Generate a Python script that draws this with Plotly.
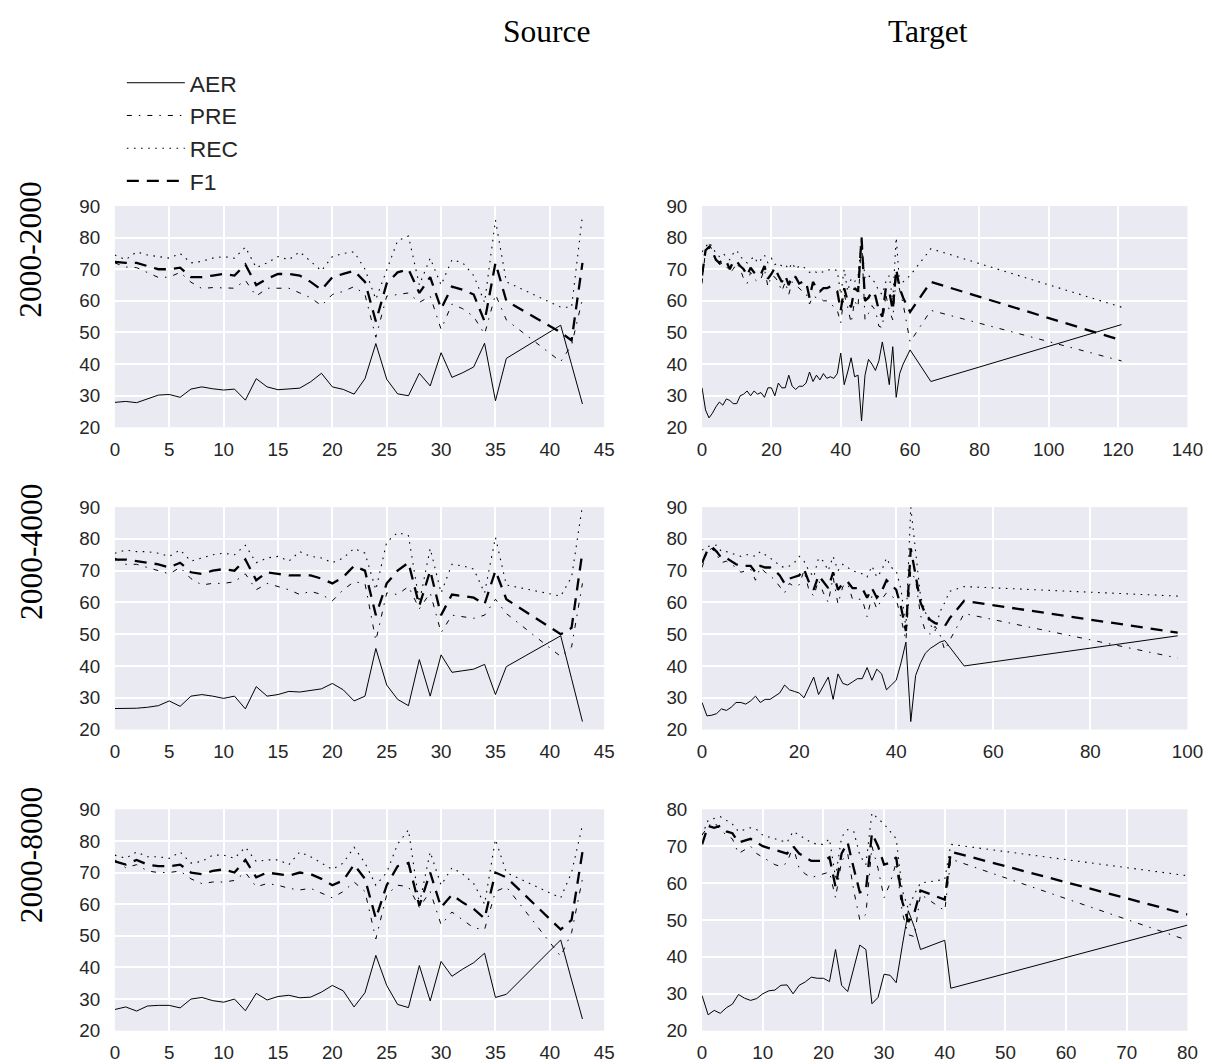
import plotly.graph_objects as go

# ---------------- data ----------------
src_x = [0, 1, 2, 3, 4, 5, 6, 7, 8, 9, 10, 11, 12, 13, 14, 15, 16, 17, 18, 19,
         20, 21, 22, 23, 24, 25, 26, 27, 28, 29, 30, 31, 32, 33, 34, 35, 36, 41, 42, 43]

# Source 2000-2000
s1_aer = [27.9, 28.2, 27.8, 29.0, 30.2, 30.4, 29.5, 32.1, 32.8, 32.2, 31.8, 32.1, 28.6, 35.4, 32.8, 31.9, 32.1, 32.4, 34.4, 37.1,
          32.8, 32.0, 30.5, 35.4, 46.5, 35.2, 30.6, 30.0, 37.1, 33.1, 43.6, 35.8, 37.3, 39.1, 46.6, 28.4, 41.8, 52.3, 39.8, 27.4]
s1_pre = [72.0, 70.7, 70.5, 69.0, 67.4, 67.5, 69.0, 65.9, 63.9, 64.2, 64.0, 64.0, 66.5, 61.5, 64.0, 64.0, 64.0, 62.5, 61.0, 58.5,
          62.0, 63.0, 64.5, 62.0, 48.5, 61.5, 62.0, 62.5, 59.5, 61.5, 51.0, 59.0, 57.5, 55.0, 49.5, 62.0, 54.0, 40.8, 46.0, 60.6]
s1_rec = [74.5, 73.0, 75.5, 74.5, 74.0, 73.5, 75.0, 72.0, 72.5, 73.5, 74.0, 73.5, 77.0, 70.5, 72.0, 74.0, 73.0, 75.5, 72.5, 69.5,
          74.0, 75.0, 75.5, 70.0, 60.5, 70.0, 79.0, 80.5, 65.0, 73.5, 65.0, 73.0, 72.0, 68.0, 59.5, 85.5, 66.0, 58.0, 58.0, 87.0]
s1_f1 = [72.3, 72.0, 72.0, 71.0, 70.0, 70.0, 70.5, 67.5, 67.5, 68.0, 68.5, 68.0, 71.5, 65.0, 67.0, 68.5, 68.5, 68.0, 66.0, 63.5,
         67.5, 68.5, 69.5, 66.0, 53.5, 65.5, 69.0, 70.0, 62.5, 67.5, 57.5, 64.5, 63.5, 62.0, 53.5, 72.0, 60.0, 50.0, 47.5, 72.0]

# Source 2000-4000
s2_aer = [26.6, 26.6, 26.7, 27.0, 27.5, 29.0, 27.3, 30.5, 31.0, 30.5, 29.8, 30.5, 26.5, 33.5, 30.5, 31.0, 32.0, 31.8, 32.2, 32.8,
          34.5, 32.5, 29.0, 30.5, 45.5, 34.0, 29.5, 27.5, 42.0, 30.5, 43.5, 38.0, 38.5, 39.0, 40.5, 31.0, 39.8, 49.5, 36.0, 22.5]
s2_pre = [74.0, 72.0, 72.0, 71.0, 70.0, 69.0, 71.0, 67.5, 65.5, 66.0, 66.0, 66.5, 69.0, 64.0, 66.0, 65.0, 64.0, 62.5, 63.5, 62.5,
          60.5, 64.0, 66.5, 66.0, 48.0, 63.0, 62.5, 65.0, 58.0, 63.0, 50.5, 56.0, 55.5, 55.0, 56.0, 61.0, 56.5, 43.0, 46.0, 66.0]
s2_rec = [75.5, 76.5, 76.0, 76.0, 75.5, 74.5, 76.5, 73.0, 74.0, 75.0, 75.5, 75.0, 78.0, 72.5, 74.0, 74.5, 73.0, 76.0, 74.5, 74.0,
          72.5, 74.0, 77.0, 75.5, 64.0, 79.0, 82.0, 81.0, 60.0, 77.0, 63.0, 72.0, 71.5, 70.5, 63.0, 80.5, 65.5, 62.0, 68.0, 90.5]
s2_f1 = [73.5, 73.5, 73.0, 72.5, 72.0, 71.0, 72.5, 69.5, 69.0, 70.0, 70.5, 70.0, 73.5, 67.0, 69.5, 69.0, 68.5, 68.5, 68.5, 67.5,
         66.0, 68.0, 71.5, 70.0, 56.0, 66.0, 70.0, 72.5, 59.0, 70.0, 56.0, 62.5, 62.0, 61.5, 59.5, 70.0, 61.0, 50.0, 52.0, 76.0]

# Source 2000-8000
s3_aer = [26.7, 27.5, 26.2, 27.8, 28.0, 28.0, 27.2, 30.0, 30.5, 29.5, 29.0, 30.0, 26.3, 31.8, 29.7, 30.8, 31.2, 30.4, 30.6, 32.2,
          34.3, 32.6, 27.5, 32.0, 43.8, 34.3, 28.3, 27.3, 40.6, 29.4, 41.9, 37.2, 39.5, 41.5, 44.5, 30.5, 31.5, 48.7, 36.0, 23.7]
s3_pre = [74.0, 71.5, 72.5, 70.5, 70.0, 70.0, 70.5, 68.0, 66.5, 67.0, 67.0, 67.5, 70.0, 65.5, 66.5, 66.0, 65.0, 64.5, 65.0, 63.5,
          62.0, 64.0, 67.0, 64.0, 49.0, 63.0, 66.0, 65.5, 59.0, 64.0, 53.5, 57.5, 55.0, 52.5, 52.0, 64.0, 65.5, 43.5, 51.0, 68.0]
s3_rec = [75.5, 74.5, 76.5, 75.0, 75.0, 74.5, 76.5, 73.0, 73.5, 75.5, 75.5, 74.5, 78.0, 73.5, 74.0, 74.0, 72.5, 76.5, 75.0, 73.0,
          71.0, 73.0, 78.0, 73.0, 66.0, 70.0, 79.0, 83.5, 60.0, 76.5, 66.0, 71.5, 69.5, 66.5, 60.0, 80.5, 70.0, 62.0, 70.0, 85.0]
s3_f1 = [73.5, 72.5, 74.0, 72.5, 72.0, 72.0, 72.5, 70.0, 69.5, 70.5, 71.0, 70.0, 74.0, 68.5, 70.0, 69.5, 69.0, 70.0, 69.5, 68.0,
         66.0, 67.5, 72.5, 68.0, 55.5, 66.0, 72.0, 73.0, 59.5, 70.0, 59.0, 63.0, 60.5, 58.5, 55.5, 70.0, 68.5, 52.0, 55.0, 76.5]

# Target 2000-2000
t1_x = [0, 1, 2, 3, 4, 5, 6, 7, 8, 9, 10, 11, 12, 13, 14, 15, 16, 17, 18, 19,
        20, 21, 22, 23, 24, 25, 26, 27, 28, 29, 30, 31, 32, 33, 34, 35, 36, 37, 38, 39,
        40, 41, 42, 43, 44, 45, 46, 47, 48, 49, 50, 51, 52, 53, 54, 55, 56, 57, 58, 60, 66, 121]
t1_aer = [32.5, 25.5, 23.0, 24.5, 26.5, 28.0, 27.0, 29.0, 28.5, 27.5, 27.5, 30.0, 30.5, 31.5, 30.0, 31.5, 30.5, 31.0, 29.5, 32.5,
          32.5, 30.0, 34.0, 32.5, 32.5, 36.5, 33.0, 32.0, 33.0, 33.0, 34.0, 37.5, 34.5, 36.5, 35.0, 37.0, 35.5, 36.0, 35.5, 37.0,
          43.5, 33.5, 37.5, 42.0, 36.0, 36.5, 22.0, 36.5, 41.5, 40.0, 38.0, 41.0, 47.0, 41.0, 33.5, 45.5, 29.5, 37.0, 40.0, 44.5, 34.5, 52.5]
t1_pre = [65.5, 76.0, 78.0, 76.0, 73.0, 71.5, 72.0, 71.0, 69.0, 70.0, 72.0, 70.0, 67.0, 65.5, 69.0, 67.0, 66.0, 67.0, 70.0, 64.5,
          68.0, 67.5, 66.0, 63.0, 66.0, 62.0, 66.0, 65.0, 64.0, 63.0, 62.5, 59.0, 61.5, 61.0, 61.0, 60.0, 60.0, 59.5, 58.0, 57.0,
          53.0, 62.0, 58.0, 53.0, 60.0, 58.0, 80.0, 54.0, 56.0, 58.5, 57.0, 52.0, 51.5, 62.0, 57.0, 54.0, 68.0, 63.0, 59.0, 47.0, 57.0, 41.0]
t1_rec = [75.5, 77.0, 78.5, 77.0, 75.0, 74.0, 75.0, 74.0, 73.0, 75.0, 76.0, 74.0, 73.0, 72.0, 73.0, 74.0, 72.0, 73.0, 74.5, 72.0,
          73.5, 71.5, 72.0, 71.0, 71.5, 70.0, 72.0, 70.0, 71.0, 71.0, 70.0, 69.0, 69.5, 69.0, 69.5, 69.0, 69.5, 70.0, 70.0, 69.5,
          62.0, 70.0, 63.0, 67.0, 66.0, 68.0, 79.0, 67.0, 68.0, 67.0, 65.5, 63.0, 62.0, 66.0, 68.0, 60.0, 80.0, 65.0, 66.0, 68.0, 76.5, 58.0]
t1_f1 = [68.0, 76.0, 77.0, 75.5, 73.0, 72.0, 73.0, 72.5, 70.0, 72.5, 72.5, 71.0, 70.0, 68.0, 70.5, 69.0, 68.0, 68.5, 71.0, 67.0,
         68.5, 70.5, 68.0, 66.0, 68.0, 65.0, 68.0, 67.5, 65.5, 66.0, 66.0, 61.0, 66.0, 64.0, 63.0, 64.0, 64.0, 64.5, 64.0, 63.0,
         57.0, 64.0, 60.0, 58.0, 64.0, 63.0, 80.0, 60.0, 61.0, 63.0, 61.5, 57.0, 55.0, 64.0, 63.0, 57.0, 70.0, 64.0, 61.0, 56.5, 66.0, 47.5]

# Target 2000-4000
t2_x = [0, 1, 2, 3, 4, 5, 6, 7, 8, 9, 10, 11, 12, 13, 14, 15, 16, 17, 18, 19,
        20, 21, 22, 23, 24, 25, 26, 27, 28, 29, 30, 31, 32, 33, 34, 35, 36, 37, 38, 39,
        40, 41, 42, 43, 44, 45, 46, 47, 48, 49, 50, 51, 54, 98]
t2_aer = [28.5, 24.3, 24.5, 25.0, 26.5, 26.0, 27.0, 28.5, 28.5, 28.0, 29.0, 30.5, 28.5, 29.5, 29.5, 30.5, 31.5, 34.0, 32.5, 32.0,
          31.5, 30.0, 33.5, 36.5, 31.0, 34.0, 36.5, 29.5, 37.5, 34.5, 34.0, 35.0, 36.0, 36.0, 39.5, 35.5, 39.0, 37.5, 32.5, 34.0,
          35.5, 41.0, 47.5, 22.5, 37.0, 41.0, 44.0, 45.5, 46.5, 47.5, 48.0, 46.0, 40.0, 49.5]
t2_pre = [71.0, 76.0, 77.0, 75.0, 72.5, 73.0, 72.0, 71.0, 69.5, 70.0, 70.5, 67.0, 71.0, 69.5, 68.5, 67.0, 65.0, 63.0, 66.0, 65.0,
          65.5, 70.0, 64.0, 62.0, 67.0, 63.0, 60.0, 68.0, 59.5, 65.0, 66.0, 61.0, 61.0, 61.0, 55.5, 62.0, 58.0, 61.0, 63.0, 62.0,
          61.0, 55.0, 48.0, 70.0, 67.0, 56.0, 51.0, 50.0, 52.5, 50.0, 45.0, 48.0, 56.5, 42.5]
t2_rec = [76.5, 77.5, 78.0, 78.0, 76.0, 76.0, 75.5, 75.0, 74.5, 75.0, 75.0, 74.5, 76.0, 75.0, 74.0, 73.0, 71.5, 71.0, 71.5, 72.5,
          74.5, 73.0, 70.0, 68.0, 74.0, 73.0, 70.0, 74.5, 70.0, 72.0, 71.0, 70.0, 69.5, 69.0, 68.0, 71.5, 68.0, 70.0, 74.0, 71.0,
          70.0, 64.0, 52.0, 90.0, 76.0, 62.0, 57.0, 53.0, 51.0, 57.0, 60.0, 63.5, 65.0, 62.0]
t2_f1 = [72.5, 76.0, 77.5, 76.0, 74.0, 74.0, 73.0, 72.0, 71.5, 71.5, 71.5, 69.5, 71.5, 71.0, 71.0, 70.0, 68.5, 66.0, 67.5, 68.0,
         68.5, 70.5, 66.5, 64.0, 68.5, 66.5, 64.5, 69.5, 64.0, 66.0, 66.5, 64.5, 64.5, 64.5, 61.5, 64.5, 61.5, 63.5, 67.0, 65.5,
         64.0, 58.5, 51.0, 77.0, 68.0, 60.0, 56.5, 54.5, 53.5, 53.0, 52.5, 55.0, 60.5, 50.5]

# Target 2000-8000
t3_x = [0, 1, 2, 3, 4, 5, 6, 7, 8, 9, 10, 11, 12, 13, 14, 15, 16, 17, 18, 19,
        20, 21, 22, 23, 24, 25, 26, 27, 28, 29, 30, 31, 32, 33, 34, 35, 36, 40, 41, 80]
t3_aer = [29.5, 24.3, 25.5, 24.7, 26.2, 27.2, 29.8, 28.8, 28.2, 28.7, 30.0, 30.8, 31.0, 32.3, 32.4, 30.0, 32.3, 33.2, 34.5, 34.2,
          34.2, 33.3, 42.0, 32.3, 30.6, 37.0, 43.2, 42.0, 27.3, 29.0, 35.3, 35.0, 33.0, 43.0, 52.5, 48.0, 42.0, 44.5, 31.5, 48.6]
t3_pre = [73.0, 75.5, 76.5, 74.5, 73.0, 72.0, 68.0, 69.0, 70.0, 68.0, 67.0, 66.0, 65.0, 64.5, 65.5, 70.0, 64.0, 62.5, 61.5, 62.0,
          62.5, 63.0, 56.0, 66.0, 68.0, 58.0, 50.0, 51.5, 70.0, 64.0, 56.0, 60.0, 65.5, 52.0, 46.0, 45.5, 57.0, 52.5, 66.5, 44.5]
t3_rec = [73.0, 77.0, 77.5, 78.0, 77.0, 76.0, 74.0, 74.5, 75.0, 74.5, 73.0, 72.5, 72.0, 71.5, 71.0, 74.0, 73.0, 72.0, 71.0, 70.5,
          70.5, 72.0, 61.5, 72.5, 74.5, 74.0, 67.5, 65.0, 79.0, 77.5, 76.0, 74.0, 72.0, 58.0, 53.0, 57.0, 60.0, 61.0, 70.5, 62.0]
t3_f1 = [70.5, 75.5, 75.0, 75.5, 74.0, 73.5, 71.0, 71.5, 72.0, 71.0, 70.0, 69.5, 69.0, 68.5, 68.0, 70.0, 68.0, 67.0, 66.0, 66.0,
         66.0, 67.0, 59.0, 68.0, 71.0, 64.0, 57.5, 58.0, 73.5, 70.0, 65.0, 65.5, 67.0, 55.0, 49.5, 52.0, 58.0, 55.5, 68.5, 51.5]

series_names = ["AER", "PRE", "REC", "F1"]
row_labels = ["2000-2000", "2000-4000", "2000-8000"]
col_titles = ["Source", "Target"]

panels = [
    (src_x, [s1_aer, s1_pre, s1_rec, s1_f1]),
    (t1_x, [t1_aer, t1_pre, t1_rec, t1_f1]),
    (src_x, [s2_aer, s2_pre, s2_rec, s2_f1]),
    (t2_x, [t2_aer, t2_pre, t2_rec, t2_f1]),
    (src_x, [s3_aer, s3_pre, s3_rec, s3_f1]),
    (t3_x, [t3_aer, t3_pre, t3_rec, t3_f1]),
]

# ---------------- layout helpers ----------------
W, H = 1212, 1064
# the rendered page maps figure px -> screen px as  screen = off + k * fig
KX, OX = 0.984, 13.0
KY, OY = 0.983, 16.5


def fx(p):  # screen px -> paper fraction (x)
    return ((p - OX) / KX) / W


def fy(p):  # screen px -> paper fraction (y, from bottom)
    return 1 - ((p - OY) / KY) / H


def fs(s):  # screen font size -> figure font size
    return s / KX


styles = {
    "AER": dict(color="black", width=1.0, dash="solid"),
    "PRE": dict(color="black", width=1.0, dash="5px,7px,1.5px,7px"),
    "REC": dict(color="black", width=1.1, dash="1.6px,5.5px"),
    "F1": dict(color="black", width=2.3, dash="12px,8px"),
}

col_px = [(115, 605), (703, 1189)]
row_px = [(205, 427), (507, 730), (810, 1032)]
x_ranges = [[0, 45], [0, 140], [0, 45], [0, 100], [0, 45], [0, 80]]
x_dticks = [5, 20, 5, 20, 5, 10]
y_ranges = [[20, 90], [20, 90], [20, 90], [20, 90], [20, 90], [20, 80]]

fig = go.Figure()
tick_font = dict(family="Liberation Sans, Arial, sans-serif", size=fs(18.5), color="#262626")

for i, (xs, ys_list) in enumerate(panels):
    r, c = divmod(i, 2)
    n = i + 1
    xa = "x" if n == 1 else f"x{n}"
    ya = "y" if n == 1 else f"y{n}"
    for name, ys in zip(series_names, ys_list):
        fig.add_trace(go.Scatter(
            x=xs, y=ys, mode="lines", name=name,
            line=styles[name], xaxis=xa, yaxis=ya,
            showlegend=(i == 0),
        ))
    x0, x1 = col_px[c]
    y0, y1 = row_px[r]
    xkey = "xaxis" if n == 1 else f"xaxis{n}"
    ykey = "yaxis" if n == 1 else f"yaxis{n}"
    fig.layout[xkey] = dict(
        domain=[fx(x0), fx(x1)], range=x_ranges[i], dtick=x_dticks[i], tick0=0,
        showgrid=True, gridcolor="white", gridwidth=1.5, zeroline=False,
        showline=False, ticks="outside", ticklen=5, tickcolor="rgba(0,0,0,0)",
        tickfont=tick_font, anchor=ya,
    )
    fig.layout[ykey] = dict(
        domain=[fy(y1), fy(y0)], range=y_ranges[i], dtick=10, tick0=0,
        showgrid=True, gridcolor="white", gridwidth=1.5, zeroline=False,
        showline=False, ticks="outside", ticklen=10, tickcolor="rgba(0,0,0,0)",
        tickfont=tick_font, anchor=xa,
    )

annotations = []
title_font = dict(family="Liberation Serif, DejaVu Serif, serif", size=fs(31), color="black")
for t, xp in zip(col_titles, [547, 929]):
    annotations.append(dict(text=t, x=fx(xp), y=fy(30), xref="paper", yref="paper",
                            showarrow=False, font=title_font, xanchor="center", yanchor="middle"))
for t, yp in zip(row_labels, [248, 551, 855]):
    annotations.append(dict(text=t, x=fx(31), y=fy(yp), xref="paper", yref="paper",
                            showarrow=False, font=title_font, textangle=-90,
                            xanchor="center", yanchor="middle"))

fig.update_layout(
    width=W, height=H,
    margin=dict(l=0, r=0, t=0, b=0),
    paper_bgcolor="white",
    plot_bgcolor="#EAEAF2",
    annotations=annotations,
    legend=dict(x=fx(122), y=fy(60), xanchor="left", yanchor="top",
                font=dict(family="Liberation Sans, Arial, sans-serif", size=fs(22.5), color="#262626"),
                bgcolor="rgba(0,0,0,0)", itemwidth=58, tracegroupgap=0),
    showlegend=True,
)

fig.write_html("out.html")
